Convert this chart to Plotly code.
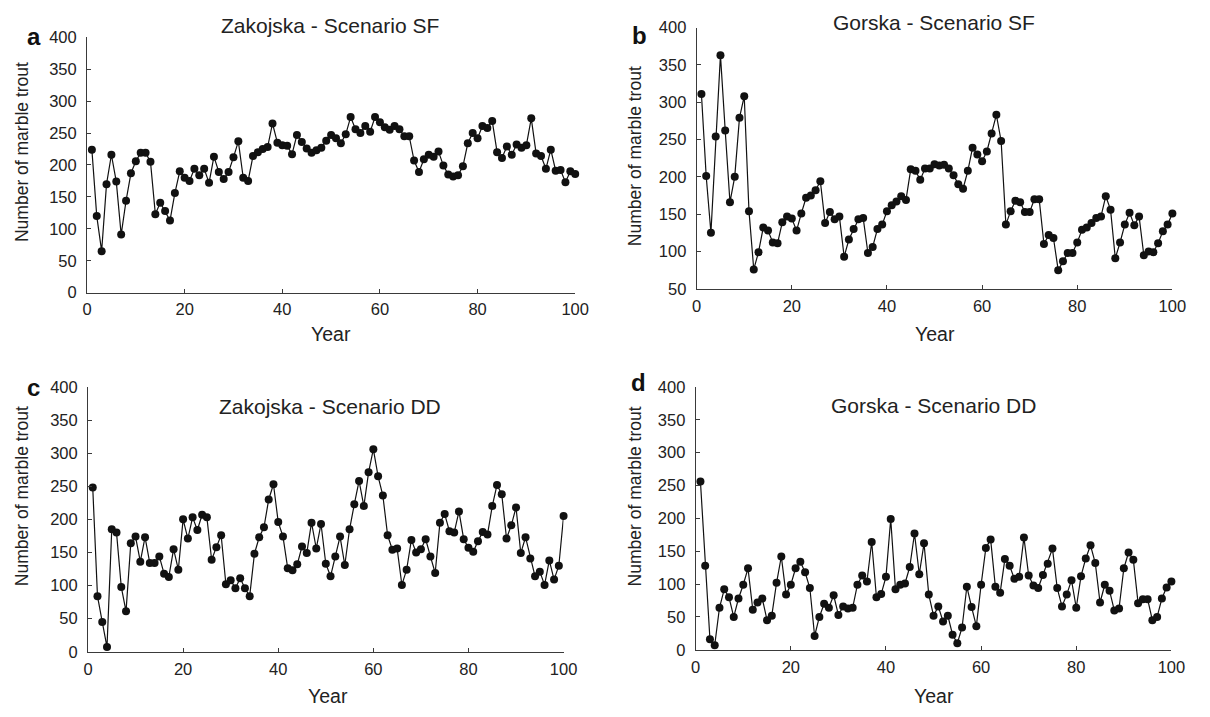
import plotly.graph_objects as go

years = list(range(1, 101))

zak_sf = [224, 120, 65, 170, 216, 174, 91, 144, 187, 206,
          219, 219, 205, 123, 141, 128, 113, 156, 190, 180,
          175, 194, 184, 194, 172, 213, 189, 178, 189, 212,
          237, 180, 175, 214, 220, 225, 228, 265, 235, 231,
          230, 217, 247, 236, 226, 219, 223, 227, 238, 247,
          242, 234, 248, 275, 256, 250, 261, 252, 275, 267,
          259, 255, 261, 256, 245, 245, 207, 189, 209, 216,
          213, 221, 199, 185, 182, 184, 198, 234, 250, 242,
          261, 258, 269, 220, 211, 229, 216, 232, 227, 231,
          273, 218, 214, 194, 224, 191, 192, 173, 190, 186]

gor_sf = [311, 201, 125, 254, 363, 262, 166, 200, 279, 308,
          154, 76, 99, 132, 128, 112, 111, 139, 147, 144,
          128, 151, 172, 175, 182, 194, 138, 153, 143, 147,
          93, 116, 130, 143, 145, 98, 106, 130, 136, 154,
          162, 167, 174, 169, 210, 208, 196, 211, 211, 217,
          215, 216, 211, 202, 190, 184, 208, 239, 230, 221,
          234, 258, 283, 248, 136, 154, 168, 166, 153, 153,
          170, 170, 110, 122, 118, 75, 87, 98, 98, 112,
          129, 132, 138, 145, 147, 174, 156, 91, 112, 136,
          152, 135, 147, 95, 100, 99, 111, 127, 136, 151]

zak_dd = [248, 84, 45, 7, 185, 180, 98, 61, 164, 174,
          136, 173, 134, 134, 144, 118, 113, 155, 124, 200,
          171, 203, 184, 207, 203, 139, 158, 176, 102, 108,
          96, 111, 96, 84, 148, 173, 188, 230, 253, 196,
          174, 126, 123, 132, 159, 149, 195, 156, 193, 133,
          114, 144, 174, 131, 185, 223, 258, 220, 271, 306,
          265, 236, 176, 154, 156, 101, 124, 169, 150, 155,
          170, 144, 119, 195, 208, 182, 180, 212, 170, 157,
          151, 167, 181, 177, 220, 252, 238, 171, 191, 218,
          149, 173, 141, 114, 121, 101, 138, 109, 130, 205]

gor_dd = [256, 128, 16, 7, 64, 92, 80, 50, 78, 99,
          124, 61, 72, 78, 45, 52, 102, 142, 84, 99,
          124, 134, 118, 94, 21, 50, 70, 64, 83, 53,
          66, 63, 64, 99, 113, 104, 164, 80, 85, 111,
          199, 92, 99, 101, 126, 177, 115, 162, 84, 52,
          66, 43, 52, 23, 10, 34, 96, 65, 36, 99,
          155, 168, 96, 87, 138, 128, 108, 111, 171, 113,
          98, 94, 114, 131, 154, 94, 66, 84, 106, 64,
          112, 139, 159, 132, 72, 99, 90, 60, 63, 124,
          148, 137, 71, 77, 77, 45, 50, 78, 95, 104]

panel_titles = ["Zakojska - Scenario SF", "Gorska - Scenario SF",
                "Zakojska - Scenario DD", "Gorska - Scenario DD"]
panel_letters = ["a", "b", "c", "d"]
x_ticks = [0, 20, 40, 60, 80, 100]
y_ticks_full = [0, 50, 100, 150, 200, 250, 300, 350, 400]
y_ticks_b = [50, 100, 150, 200, 250, 300, 350, 400]
x_title = "Year"
y_title = "Number of marble trout"

W, H = 1210, 717
FONT = "Liberation Sans, Arial, Helvetica, sans-serif"
TXT = "#222222"
AX = "#3a3a3a"

# plot-area boxes in pixels: (x0, x1, ytop, ybottom)
boxes = [(83.3, 579.3, 29, 291),
         (702.7, 1186, 19, 287),
         (84.3, 567.5, 387.7, 659.3),
         (701.7, 1185, 387.7, 657.3)]
yranges = [[0, 400], [50, 400], [0, 400], [0, 400]]
yticks = [y_ticks_full, y_ticks_b, y_ticks_full, y_ticks_full]
series = [zak_sf, gor_sf, zak_dd, gor_dd]

fig = go.Figure()
layout = dict(width=W, height=H, margin=dict(l=0, r=0, t=0, b=0),
              paper_bgcolor="white", plot_bgcolor="white",
              showlegend=False, font=dict(family=FONT, color=TXT))
annotations = []

for i in range(4):
    x0, x1, yt, yb = boxes[i]
    xa = "xaxis" if i == 0 else f"xaxis{i+1}"
    ya = "yaxis" if i == 0 else f"yaxis{i+1}"
    xr = "x" if i == 0 else f"x{i+1}"
    yr = "y" if i == 0 else f"y{i+1}"
    fig.add_trace(go.Scatter(
        x=years, y=series[i], xaxis=xr, yaxis=yr, mode="lines+markers",
        line=dict(color="#111111", width=1.2),
        marker=dict(color="#111111", size=8),
        cliponaxis=False, hoverinfo="x+y"))
    common = dict(showgrid=False, zeroline=False, showline=True,
                  linecolor=AX, linewidth=1, ticks="inside", ticklen=4,
                  tickcolor=AX, tickwidth=1,
                  tickfont=dict(family=FONT, size=16.5, color=TXT))
    layout[xa] = dict(domain=[x0 / W, x1 / W], range=[0, 100],
                      tickvals=x_ticks, ticktext=[str(v) for v in x_ticks],
                      anchor=yr, ticklabelstandoff=2, **common)
    layout[ya] = dict(domain=[1 - yb / H, 1 - yt / H], range=yranges[i],
                      tickvals=yticks[i], ticktext=[str(v) for v in yticks[i]],
                      anchor=xr, ticklabelstandoff=6, **common)

# titles, panel letters and axis titles
title_pos = [(330, 17), (944, 14), (330, 408), (943, 407)]
letter_pos = [(29, 28), (645, 27), (29, 388), (644, 383)]
ytitle_pos = [(18, 147), (640, 151), (18, 500), (640, 500)]
xtitle_pos = [(331, 333), (945, 333), (328, 705), (944, 705)]

for i in range(4):
    tx, ty = title_pos[i]
    annotations.append(dict(x=tx / W, y=1 - ty / H, xref="paper", yref="paper",
                            text=panel_titles[i], showarrow=False,
                            xanchor="center", yanchor="middle",
                            font=dict(family=FONT, size=21, color=TXT)))
    lx, ly = letter_pos[i]
    annotations.append(dict(x=lx / W, y=1 - ly / H, xref="paper", yref="paper",
                            text="<b>" + panel_letters[i] + "</b>", showarrow=False,
                            xanchor="center", yanchor="middle",
                            font=dict(family=FONT, size=24, color="#111111")))
    ax_, ay_ = ytitle_pos[i]
    annotations.append(dict(x=ax_ / W, y=1 - ay_ / H, xref="paper", yref="paper",
                            text=y_title, showarrow=False, textangle=-90,
                            xanchor="center", yanchor="middle",
                            font=dict(family=FONT, size=17.5, color=TXT)))
    bx, by = xtitle_pos[i]
    annotations.append(dict(x=bx / W, y=1 - by / H, xref="paper", yref="paper",
                            text=x_title, showarrow=False,
                            xanchor="center", yanchor="middle",
                            font=dict(family=FONT, size=19.5, color=TXT)))

layout["annotations"] = annotations
fig.update_layout(**layout)
fig.write_html("out.html")
